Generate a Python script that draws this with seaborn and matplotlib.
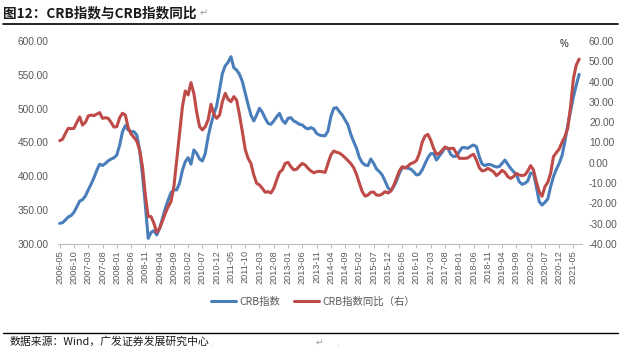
import numpy as np
import pandas as pd
import matplotlib
matplotlib.use("Agg")
import matplotlib.pyplot as plt
from matplotlib.ticker import FormatStrFormatter
from matplotlib.lines import Line2D
import seaborn as sns

# ---------------- data ----------------
months = pd.date_range("2006-05-01", periods=183, freq="MS").strftime("%Y-%m").tolist()

crb_index = [
    330.5, 331.5, 335.5, 340.0, 342.0, 347.0, 355.0, 363.5, 365.5, 371.0,
    380.0, 388.5, 398.0, 409.0, 418.0, 416.0, 419.0, 423.0, 425.5, 427.5,
    431.5, 446.0, 466.0, 475.0, 468.5, 466.0, 466.0, 461.0, 439.0, 402.0,
    357.6, 308.4, 317.0, 319.7, 313.3, 323.0, 338.0, 352.7, 365.0, 376.0,
    380.0, 380.0, 390.0, 409.0, 421.7, 427.6, 418.0, 439.0, 434.0, 425.6,
    422.7, 434.0, 458.6, 476.8, 492.0, 504.0, 527.6, 552.0, 563.5, 568.5,
    576.8, 560.6, 557.0, 550.7, 540.0, 522.7, 506.0, 490.6, 481.8, 490.6,
    500.5, 494.6, 485.7, 478.3, 476.8, 481.8, 488.0, 493.0, 483.0, 478.3,
    485.7, 486.7, 481.8, 479.8, 476.8, 475.9, 472.0, 470.0, 472.0, 470.0,
    463.5, 461.0, 460.0, 460.0, 467.0, 488.2, 500.5, 501.5, 495.6, 490.6,
    483.3, 475.9, 462.0, 451.2, 441.4, 427.6, 420.2, 416.7, 415.8, 425.6,
    419.2, 410.8, 406.9, 402.0, 393.1, 383.3, 378.3, 384.7, 393.1, 404.4,
    412.8, 413.3, 411.8, 410.8, 406.9, 402.0, 403.0, 409.4, 418.7, 427.6,
    433.5, 433.5, 424.1, 430.0, 435.5, 442.4, 441.4, 432.5, 429.1, 430.0,
    436.5, 442.4, 442.4, 441.4, 444.3, 446.3, 443.8, 429.1, 418.2, 415.8,
    417.7, 417.2, 415.3, 413.8, 414.3, 419.2, 424.1, 417.7, 411.8, 406.9,
    403.0, 392.1, 388.2, 389.7, 393.1, 404.9, 404.4, 384.7, 362.6, 357.6,
    361.6, 366.5, 384.7, 399.5, 410.3, 419.2, 430.5, 451.2, 475.9, 496.6,
    517.7, 535.0, 550.7,
]

crb_yoy = [
    10.9, 11.6, 14.5, 17.0, 16.8, 17.0, 19.9, 22.6, 18.6, 19.9,
    23.1, 23.5, 23.2, 24.0, 24.7, 21.9, 22.2, 21.9, 19.9, 17.6,
    17.8, 22.2, 24.4, 23.5, 17.3, 14.2, 12.5, 10.7, 6.3, -1.9,
    -15.9, -26.5, -26.5, -29.8, -34.3, -32.3, -28.7, -24.9, -21.6, -19.1,
    -11.8, 1.4, 14.5, 27.7, 35.4, 33.4, 39.5, 34.2, 24.9, 17.8,
    16.2, 17.8, 21.1, 28.8, 23.9, 21.9, 23.5, 30.1, 34.2, 31.3,
    30.1, 32.6, 30.9, 23.5, 15.3, 6.6, 2.2, -0.3, -6.0, -10.1,
    -10.9, -12.6, -14.5, -14.2, -14.9, -12.6, -8.5, -4.7, -3.5, -0.3,
    0.2, -1.9, -3.5, -3.2, -1.6, -0.3, -1.1, -2.7, -4.0, -4.9,
    -4.4, -4.2, -4.4, -4.7, -0.3, 3.8, 5.8, 5.2, 4.8, 3.8,
    2.5, 1.1, -0.4, -2.4, -5.7, -10.1, -14.2, -16.4, -15.9, -14.5,
    -14.4, -15.9, -16.0, -15.4, -14.2, -14.9, -13.9, -11.3, -7.7, -4.0,
    -1.9, -2.6, -1.6, -0.4, 0.1, 1.1, 4.5, 10.1, 13.2, 14.0,
    11.2, 7.1, 4.2, 4.7, 6.1, 7.8, 7.0, 7.1, 7.1, 4.7,
    2.2, 2.2, 2.2, 2.4, 3.5, 4.2, 1.4, -2.4, -4.0, -3.7,
    -2.7, -3.5, -4.4, -6.3, -5.2, -3.7, -4.7, -6.8, -7.7, -6.8,
    -5.2, -6.0, -6.3, -6.0, -4.0, -1.4, -3.5, -9.3, -14.2, -16.5,
    -11.8, -9.6, -5.2, 3.0, 5.0, 6.8, 10.1, 12.9, 17.0, 27.7,
    41.6, 48.2, 51.1,
]

series_names = ["CRB指数", "CRB指数同比（右）"]
left_ticks = [300, 350, 400, 450, 500, 550, 600]
right_ticks = [-40, -30, -20, -10, 0, 10, 20, 30, 40, 50, 60]
tick_every = 5

# ---------------- style ----------------
sns.set_theme(style="white")
CJK = ["Noto Sans CJK SC", "DejaVu Sans"]
plt.rcParams["font.family"] = ["Liberation Sans", "Noto Sans CJK SC", "DejaVu Sans"]

BLUE = "#4A7EBB"
RED = "#BE4B48"
GRAY = "#595959"

df = pd.DataFrame({"idx": np.arange(len(months)), "month": months,
                   "crb": crb_index, "yoy": crb_yoy})

W, H = 621, 350
fig = plt.figure(figsize=(W / 100, H / 100), dpi=100)
fig.patch.set_facecolor("white")
ax = fig.add_axes([58 / W, 1 - 244 / H, (582 - 58) / W, (244 - 41) / H])
ax2 = ax.twinx()

sns.lineplot(data=df, x="idx", y="crb", ax=ax, color=BLUE, linewidth=2.2, legend=False)
sns.lineplot(data=df, x="idx", y="yoy", ax=ax2, color=RED, linewidth=2.2, legend=False)

ax.set_xlim(-0.6, 183)
ax.set_ylim(left_ticks[0], left_ticks[-1])
ax2.set_ylim(right_ticks[0], right_ticks[-1])
ax.set_yticks(left_ticks)
ax2.set_yticks(right_ticks)
ax.yaxis.set_major_formatter(FormatStrFormatter("%.2f"))
ax2.yaxis.set_major_formatter(FormatStrFormatter("%.2f"))

xt = df["idx"].iloc[::tick_every]
ax.set_xticks(xt)
ax.set_xticklabels(df["month"].iloc[::tick_every], rotation=90)

for a in (ax, ax2):
    a.set_xlabel("")
    a.set_ylabel("")
    a.grid(False)
    for s in ("top", "left", "right"):
        a.spines[s].set_visible(False)
ax2.spines["bottom"].set_visible(False)
ax.spines["bottom"].set_color("#BFBFBF")
ax.spines["bottom"].set_linewidth(0.8)

ax.tick_params(axis="x", bottom=True, length=3, width=0.8, color="#BFBFBF",
               pad=1.5, labelsize=6.6, labelcolor=GRAY)
ax.tick_params(axis="y", left=False, length=0, pad=7, labelsize=7.3, labelcolor=GRAY)
ax2.tick_params(axis="y", right=False, length=0, pad=5, labelsize=7.3, labelcolor=GRAY)

# legend
h1 = ax.get_lines()[0]
h2 = ax2.get_lines()[0]
fig.legend([h1, h2], series_names, loc="center", bbox_to_anchor=(313 / W, 1 - 302 / H),
           ncol=2, frameon=False, handlelength=2.4, handletextpad=0.25,
           columnspacing=1.4, prop={"family": CJK, "size": 7.5}, labelcolor=GRAY)

# "%" unit
fig.text(564 / W, 1 - 44 / H, "%", fontsize=7, ha="center", va="center", color="#222222")

# title
fig.text(3 / W, 1 - 13 / H, "图12：CRB指数与CRB指数同比", fontsize=9.8, weight="bold",
         family=CJK, ha="left", va="center", color="#1a1a1a")
fig.text(200 / W, 1 - 13 / H, "↵", fontsize=7, family=CJK, ha="left", va="center", color="#999999")
fig.add_artist(Line2D([3 / W, 618 / W], [1 - 24 / H, 1 - 24 / H], color="black", lw=1.2,
                      transform=fig.transFigure))

# footer
fig.add_artist(Line2D([3 / W, 618 / W], [1 - 333 / H, 1 - 333 / H], color="black", lw=1.0,
                      transform=fig.transFigure))
fig.text(10 / W, 1 - 342 / H, "数据来源：Wind，广发证券发展研究中心", fontsize=7.8,
         family=CJK, ha="left", va="center", color="#1a1a1a")
fig.text(210 / W, 1 - 343 / H, ".", fontsize=6, family=CJK, ha="left", va="center", color="#999999")
fig.text(316 / W, 1 - 342 / H, "↵", fontsize=6.5, family=CJK, ha="left", va="center", color="#999999")
fig.text(336 / W, 1 - 343 / H, ".", fontsize=6, family=CJK, ha="left", va="center", color="#999999")

fig.savefig("out.png", dpi=100, facecolor="white")
